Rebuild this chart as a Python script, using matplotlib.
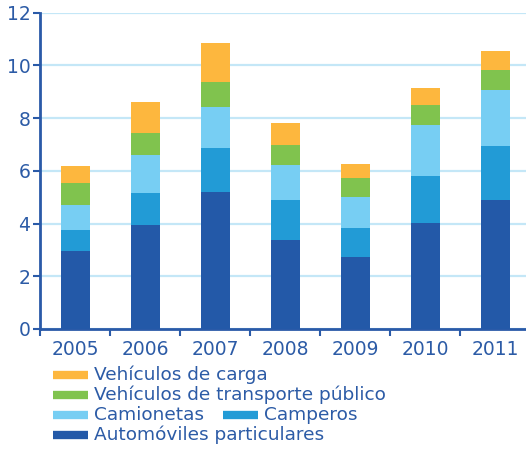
import numpy as np
import matplotlib.pyplot as plt
from matplotlib.lines import Line2D

years = ['2005', '2006', '2007', '2008', '2009', '2010', '2011']
autos = [2.96, 3.95, 5.20, 3.38, 2.73, 4.02, 4.90]
camperos = [0.80, 1.21, 1.67, 1.52, 1.10, 1.79, 2.05]
camionetas = [0.95, 1.44, 1.56, 1.32, 1.18, 1.93, 2.12]
publico = [0.83, 0.84, 0.94, 0.76, 0.72, 0.76, 0.76]
carga = [0.65, 1.17, 1.48, 0.84, 0.53, 0.65, 0.72]

series = [autos, camperos, camionetas, publico, carga]
labels = ['Automóviles particulares', 'Camperos', 'Camionetas',
          'Vehículos de transporte público', 'Vehículos de carga']
colors = ['#2359a8', '#229bd6', '#77cef3', '#80c34e', '#fdb73e']
text_color = '#2c5ba6'
axis_color = '#2a5aa8'
grid_color = '#c4e7f7'

plt.rcParams['font.family'] = ['DejaVu Sans']

fig = plt.figure(figsize=(5.26, 4.5), dpi=100)
ax = fig.add_axes([40 / 526, 1 - 329 / 450, 1 - 40 / 526, (329 - 12.7) / 450])

x = np.arange(len(years))
bottom = np.zeros(len(years))
for vals, col, lab in zip(series, colors, labels):
    ax.bar(x, vals, width=0.41, bottom=bottom, color=col, label=lab, zorder=3)
    bottom += np.array(vals)

ax.set_ylim(0, 12)
ax.set_xlim(-0.507, 6.44)
ax.set_yticks(range(0, 13, 2))
ax.yaxis.grid(True, color=grid_color, linewidth=1.6, zorder=0)
ax.set_axisbelow(True)

ax.set_xticks(x)
ax.set_xticklabels(years)
ax.set_xticks(np.arange(-0.5, len(years) - 0.5, 1), minor=True)
ax.tick_params(axis='x', which='major', length=0, pad=8, labelsize=13.5, labelcolor=text_color)
ax.tick_params(axis='x', which='minor', length=5, width=1.5, color=axis_color, direction='out')
ax.tick_params(axis='y', length=5, width=1.5, color=axis_color, pad=2, labelsize=13.5, labelcolor=text_color)

for s in ['top', 'right']:
    ax.spines[s].set_visible(False)
for s in ['left', 'bottom']:
    ax.spines[s].set_color(axis_color)
    ax.spines[s].set_linewidth(2)

# legend laid out by hand: four rows, "Camperos" next to "Camionetas"
W, H = 526, 450
legend_rows = [(4, 53, 375), (3, 53, 395), (2, 53, 415), (1, 223, 415), (0, 53, 435)]
for idx, px, py in legend_rows:
    fy = 1 - py / H
    fig.add_artist(Line2D([px / W, (px + 35) / W], [fy, fy], color=colors[idx],
                          linewidth=6, solid_capstyle='butt'))
    fig.text((px + 41) / W, fy, labels[idx], color=text_color, fontsize=13.3,
             va='center', ha='left')

fig.savefig('out.png', dpi=100)
